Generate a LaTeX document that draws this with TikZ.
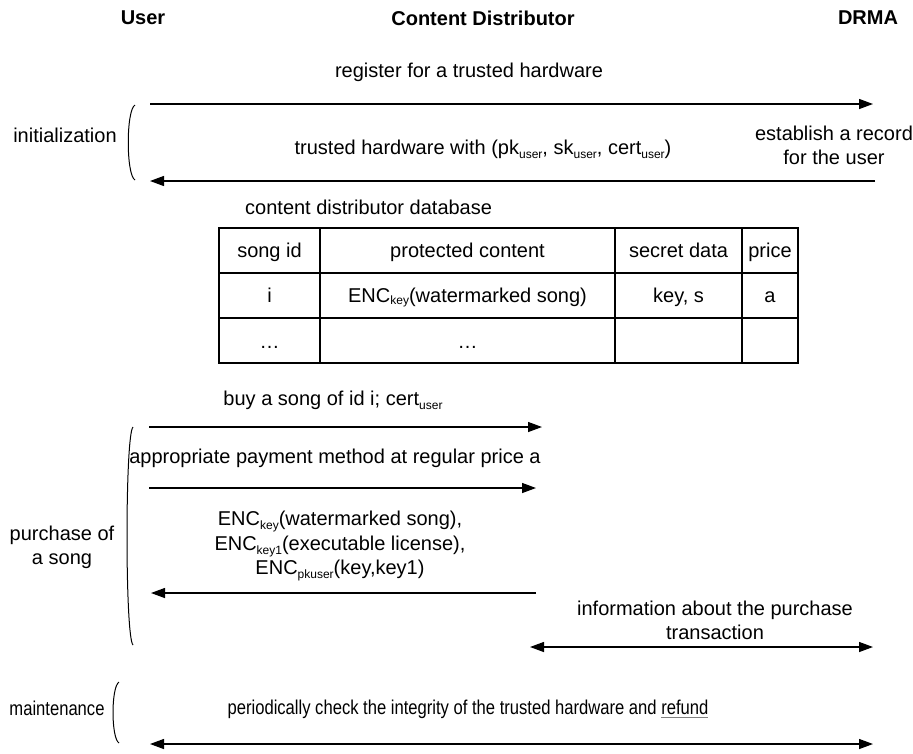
\documentclass[tikz,border=0pt]{standalone}
\usepackage{fontspec}
\usepackage{graphicx}
\setmainfont{Liberation Sans}
\usetikzlibrary{arrows.meta}
\newcommand\sbs[1]{\raisebox{-4pt}{\fontsize{12}{12}\selectfont #1}}
\newcommand\tsb[1]{\raisebox{-1.5pt}{\fontsize{12}{12}\selectfont #1}}
\newcommand\ulgray[1]{\setbox0\hbox{#1}\rlap{\color{gray}\rule[-4pt]{\wd0}{1.2pt}}\box0}
\tikzset{
  txt/.style={inner sep=0pt, align=center, font=\fontsize{20}{24}\selectfont},
  cell/.style={txt, anchor=base},
  head/.style={txt, font=\fontsize{20}{24}\selectfont\bfseries},
  msg/.style={line width=1.3pt, -{Triangle[length=14pt,width=10pt]}},
  bimsg/.style={line width=1.3pt, {Triangle[length=14pt,width=10pt]}-{Triangle[length=14pt,width=10pt]}},
  paren/.style={line width=1pt},
  grid/.style={line width=1.3pt}
}
\begin{document}
\begin{tikzpicture}[x=1pt,y=-1pt]
\useasboundingbox (0,0) rectangle (913,753);

% party names
\node[head] (user) at (143,18) {User};
\node[head] (cd) at (483,18) {Content Distributor};
\node[head] (drma) at (868,18) {DRMA};

% initialization phase
\coordinate (i1s) at (150,104);
\coordinate (i1e) at (873,104);
\coordinate (i2s) at (875,181);
\coordinate (i2e) at (150,181);
\draw[msg] (i1s) -- (i1e);
\draw[msg] (i2s) -- (i2e);
\node[txt] (reg) at (469,72) {register for a trusted hardware};
\node[txt] (hw) at (483,149) {trusted hardware with (pk\sbs{user}, sk\sbs{user}, cert\sbs{user})};
\node[txt] (rec) at (834,145) {establish a record\\for the user};
\coordinate (p1t) at (135,105);
\coordinate (p1b) at (135,180);
\draw[paren] (p1t) .. controls (126,110) and (126,175) .. (p1b);
\node[txt] (init) at (65,135) {initialization};

% database table
\node[txt, anchor=west] (db) at (245,207) {content distributor database};
\draw[grid] (219,228) rectangle (798,363);
\draw[grid] (219,273) -- (798,273) (219,318) -- (798,318);
\draw[grid] (320,228) -- (320,363) (615,228) -- (615,363) (742,228) -- (742,363);
\node[cell] (h1) at (269.5,257.5) {song id};
\node[cell] (h2) at (467.5,257.5) {protected content};
\node[cell] (h3) at (678.5,257.5) {secret data};
\node[cell] (h4) at (770,257.5) {price};
\node[cell] (c1) at (269.5,302.5) {i};
\node[cell] (c2) at (467.5,302.5) {ENC\tsb{key}(watermarked song)};
\node[cell] (c3) at (678.5,302.5) {key, s};
\node[cell] (c4) at (770,302.5) {a};
\node[cell] (d1) at (269.5,348.5) {\dots};
\node[cell] (d2) at (467.5,348.5) {\dots};

% purchase phase
\coordinate (a1s) at (149,427);
\coordinate (a1e) at (542,427);
\coordinate (a2s) at (149,488);
\coordinate (a2e) at (536,488);
\coordinate (a3s) at (536,593);
\coordinate (a3e) at (151,593);
\coordinate (a4s) at (530,647);
\coordinate (a4e) at (873,647);
\draw[msg] (a1s) -- (a1e);
\draw[msg] (a2s) -- (a2e);
\draw[msg] (a3s) -- (a3e);
\draw[bimsg] (a4s) -- (a4e);
\node[txt] (buy) at (333,400) {buy a song of id i; cert\sbs{user}};
\node[txt] (pay) at (335,458) {appropriate payment method at regular price a};
\node[txt, font=\fontsize{20}{24.5}\selectfont] (enc) at (340,546) {ENC\sbs{key}(watermarked song),\\ENC\sbs{key1}(executable license),\\ENC\sbs{pkuser}(key,key1)};
\node[txt] (info) at (715,620) {information about the purchase\\transaction};
\coordinate (p2t) at (133,427);
\coordinate (p2b) at (133,645);
\draw[paren] (p2t) .. controls (125,435) and (125,637) .. (p2b);
\node[txt] (buyph) at (62,547) {purchase of\\a song};

% maintenance phase
\coordinate (m1s) at (150,744);
\coordinate (m1e) at (873,744);
\draw[bimsg] (m1s) -- (m1e);
\coordinate (p3t) at (119,682);
\coordinate (p3b) at (119,743);
\draw[paren] (p3t) .. controls (111,687) and (111,738) .. (p3b);
\node[txt] (maint) at (57,708) {\scalebox{0.83}[1]{maintenance}};
\node[txt] (check) at (468,709) {\scalebox{0.83}[1]{periodically check the integrity of the trusted hardware and \ulgray{refund}}};
\end{tikzpicture}
\end{document}
